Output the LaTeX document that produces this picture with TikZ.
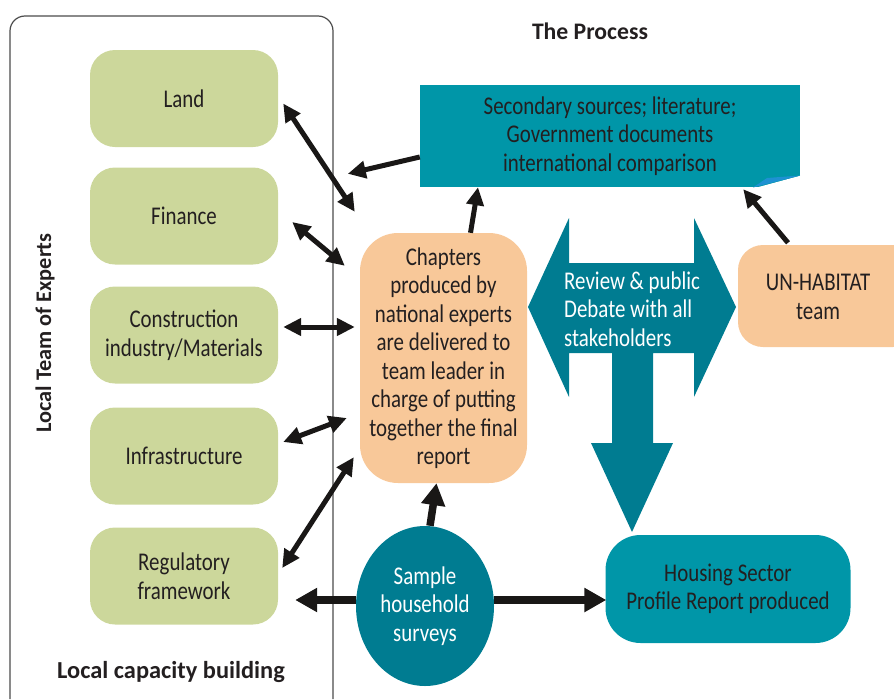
\documentclass[tikz,border=0pt]{standalone}
\usepackage{fontspec}
\setmainfont{Carlito}[FakeStretch=0.82]
\newfontfamily\titlefont{Carlito}
\usetikzlibrary{arrows.meta,shapes.geometric,calc}
\definecolor{greenbox}{RGB}{204,215,155}
\definecolor{orangebox}{RGB}{248,200,153}
\definecolor{tealL}{RGB}{0,150,168}
\definecolor{tealD}{RGB}{0,124,145}
\definecolor{curlblue}{RGB}{30,145,210}
\definecolor{txt}{RGB}{35,31,32}
\definecolor{arr}{RGB}{25,23,22}
\tikzset{
  every node/.style={font=\fontsize{25.5}{28.5}\selectfont, text=txt, align=center, inner sep=0},
  gbox/.style={fill=greenbox, rounded corners=25, minimum width=188, minimum height=97},
  obox/.style={fill=orangebox, rounded corners=38},
  dbl/.style={draw=arr, line width=5, {Triangle[length=18,width=17]}-{Triangle[length=18,width=17]}},
  sgl/.style={draw=arr, line width=5, -{Triangle[length=18,width=17]}},
  thk/.style={draw=arr, line width=7.5, -{Triangle[length=22,width=23]}},
}
\begin{document}
\begin{tikzpicture}[x=1pt,y=-1pt]
\useasboundingbox (0,0) rectangle (894,699);
% outer frame
\draw[gray!60!black, line width=1.2, rounded corners=15] (10,699) -- (10,16) -- (333,16) -- (333,699);
% titles
\node[font=\titlefont\fontsize{23.7}{26}\selectfont\bfseries] (ttlproc) at (590,31) {The Process};
\node[font=\titlefont\fontsize{24.4}{26}\selectfont\bfseries] (ttlcap) at (171,672) {Local capacity building};
\node[font=\titlefont\fontsize{22.3}{26}\selectfont\bfseries, rotate=90] (ttlteam) at (45,333) {Local Team of Experts};
% green boxes
\node[gbox] (land) at (184,98.5) {Land};
\node[gbox] (fin) at (184,216) {Finance};
\node[gbox] (con) at (184,335) {Construction\\industry/Materials};
\node[gbox] (inf) at (184,456) {Infrastructure};
\node[gbox] (reg) at (184,576) {Regulatory\\framework};
% chapters
\node[obox, minimum width=167, minimum height=250] (chap) at (443.5,358) {Chapters\\produced by\\national experts\\are delivered to\\team leader in\\charge of putting\\together the final\\report};
% secondary sources box
\node[fill=tealL, minimum width=380, minimum height=102] (sec) at (610,136) {Secondary sources; literature;\\Government documents\\international comparison};
\fill[white] (753,188.5) -- (801,188.5) -- (801,175.5) -- cycle;
\fill[curlblue] (753,187.5) -- (767,178) -- (800,175.5) -- cycle;
% UN-HABITAT
\node[fill=orangebox, rounded corners=25, minimum width=180, minimum height=102] (un) at (828,296) {};
\node (untext) at (818,297) {UN-HABITAT\\team};
% big arrow
\fill[tealD] (528,307) -- (569,218) -- (569,263) -- (694,263) -- (694,218) -- (736,307) -- (694,397) -- (694,353) -- (653,353) -- (653,443) -- (673,443) -- (632,532) -- (591,443) -- (612,443) -- (612,353) -- (569,353) -- (569,397) -- cycle;
\node[align=left, anchor=west, text=white] (rev) at (564,309) {Review \& public\\Debate with all\\stakeholders};
% housing
\node[fill=tealL, rounded corners=35, minimum width=245, minimum height=108] (hous) at (728,589) {Housing Sector\\Profile Report produced};
% sample
\node[ellipse, fill=tealD, minimum width=138, minimum height=160, text=white] (samp) at (425,606) {Sample\\household\\surveys};
% connectors
\draw[dbl] ([xshift=5,yshift=-5]land.east) -- ([xshift=-5,yshift=21]chap.north west);
\draw[dbl] ([xshift=14,yshift=-6]fin.east) -- ([xshift=-15,yshift=-33]chap.north west);
\draw[dbl] ([xshift=5,yshift=8]con.east) -- ([xshift=-5,yshift=31]chap.west);
\draw[dbl] ([xshift=5,yshift=14]inf.east) -- ([xshift=-13,yshift=-60]chap.west);
\draw[dbl] ([xshift=4,yshift=8]reg.east) -- ([xshift=-6,yshift=26]chap.south west);
\draw[sgl] ([yshift=-21]sec.west) -- ([xshift=-12,yshift=59]chap.north west);
\draw[sgl] ([xshift=27]chap.north) -- ([xshift=-132]sec.south);
\draw[sgl] ([xshift=-40,yshift=2]un.north) -- ([xshift=-57,yshift=-2]sec.south east);
\draw[thk] ([yshift=6]samp.west) -- ([xshift=17,yshift=-24]reg.east);
\draw[thk] ([yshift=6]samp.east) -- ([xshift=1,yshift=-11]hous.west);
\draw[thk] ([xshift=5]samp.north) -- ([xshift=-7]chap.south);
\end{tikzpicture}
\end{document}
